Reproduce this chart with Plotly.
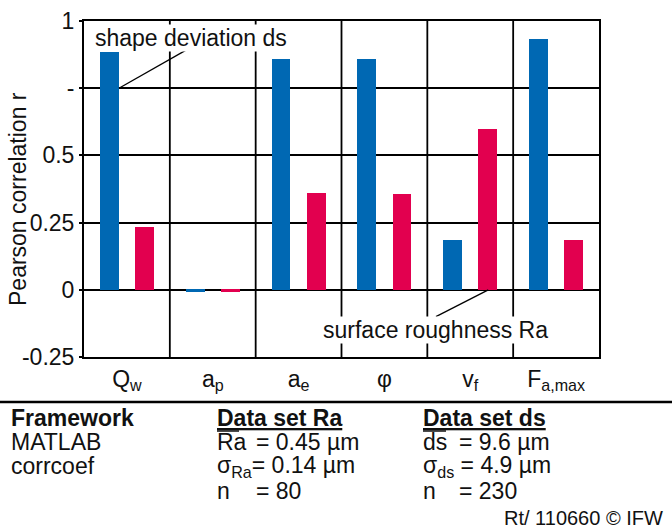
import plotly.graph_objects as go

categories = ["Q<sub>w</sub>", "a<sub>p</sub>", "a<sub>e</sub>", "φ", "v<sub>f</sub>", "F<sub>a,max</sub>"]
shape_deviation_ds = [0.886, -0.007, 0.859, 0.857, 0.187, 0.934]
surface_roughness_ra = [0.235, -0.007, 0.360, 0.357, 0.598, 0.186]
ytick_vals = [-0.25, 0, 0.25, 0.5, 0.75, 1]
ytick_text = ["-0.25", "0", "0.25", "0.5", "-", "1"]

BLUE = "#0068B3"
RED = "#E2004F"
FONT = "Liberation Sans, Arial, sans-serif"
FS = 23

W, H = 672, 529
ML, MR, MT, MB = 84, 73, 21, 172
PW = W - ML - MR
PH = H - MT - MB


def px(x):
    return (x - ML) / PW


def py(y):
    return (H - MB - y) / PH


fig = go.Figure()
xs = list(range(len(categories)))
fig.add_trace(go.Bar(x=xs, y=shape_deviation_ds, marker_color=BLUE, width=0.22, offset=-0.315,
                     marker_line_width=0, name="shape deviation ds"))
fig.add_trace(go.Bar(x=xs, y=surface_roughness_ra, marker_color=RED, width=0.22, offset=0.095,
                     marker_line_width=0, name="surface roughness Ra"))

fig.update_layout(
    width=W, height=H,
    margin=dict(l=ML, r=MR, t=MT, b=MB, autoexpand=False),
    paper_bgcolor="white", plot_bgcolor="white",
    showlegend=False,
    font=dict(family=FONT, size=FS, color="#111"),
    bargap=0,
)
fig.update_xaxes(
    range=[-0.5, 5.5], automargin=False,
    tickvals=xs, ticktext=categories,
    showgrid=False, zeroline=False,
    showline=True, mirror=True, linecolor="black", linewidth=2,
    ticks="", tickfont=dict(size=FS),
)
for b in [0.5, 1.5, 2.5, 3.5, 4.5]:
    fig.add_shape(type="line", xref="x", yref="y", x0=b, x1=b, y0=-0.25, y1=1,
                  line=dict(color="black", width=1.8), layer="below")
fig.update_yaxes(
    range=[-0.25, 1], automargin=False,
    tickvals=ytick_vals, ticktext=ytick_text,
    showgrid=True, gridcolor="black", gridwidth=1.8,
    zeroline=False,
    showline=True, mirror=True, linecolor="black", linewidth=2,
    ticks="outside", ticklen=3, tickcolor="black", tickwidth=1.5,
    tickfont=dict(size=FS),
)

# y-axis title
fig.add_annotation(x=px(18), y=py(199), xref="paper", yref="paper", text="Pearson correlation r",
                   textangle=-90, showarrow=False, xanchor="center", yanchor="middle",
                   font=dict(size=FS))

# leader lines
fig.add_shape(type="line", xref="x", yref="y", x0=-0.093, y0=0.75, x1=0.735, y1=0.90,
              line=dict(color="black", width=1.3))
fig.add_shape(type="line", xref="x", yref="y", x0=3.6, y0=-0.10, x1=4.21, y1=0.0,
              line=dict(color="black", width=1.3))

fig.add_annotation(x=0.745, y=0.937, xref="x", yref="y", text="shape deviation ds",
                   showarrow=False, bgcolor="white", font=dict(size=FS), borderpad=0)
fig.add_annotation(x=3.6, y=-0.15, xref="x", yref="y", text="surface roughness Ra",
                   showarrow=False, bgcolor="white", font=dict(size=FS), borderpad=0)

# separator line under chart
fig.add_shape(type="line", xref="paper", yref="paper", x0=px(0), x1=px(W), y0=py(402), y1=py(402),
              line=dict(color="black", width=2.5))

# overlines for mean values
fig.add_shape(type="line", xref="paper", yref="paper", x0=px(217), x1=px(239), y0=py(431), y1=py(431),
              line=dict(color="#111", width=1.5))
fig.add_shape(type="line", xref="paper", yref="paper", x0=px(423), x1=px(446), y0=py(431), y1=py(431),
              line=dict(color="#111", width=1.5))


def txt(x, y, s, anchor="left", size=FS):
    fig.add_annotation(x=px(x), y=py(y), xref="paper", yref="paper", text=s, showarrow=False,
                       xanchor=anchor, yanchor="middle", font=dict(size=size, color="#111"),
                       borderpad=0)


txt(10, 418, "<b>Framework</b>")
txt(10, 442, "MATLAB")
txt(10, 466, "corrcoef")

txt(216, 418, "<b><u>Data set Ra</u></b>")
txt(216, 442, "Ra")
txt(255, 442, "= 0.45 µm")
txt(216, 466, "σ<sub>Ra</sub>= 0.14 µm")
txt(216, 491, "n")
txt(255, 491, "= 80")

txt(422, 418, "<b><u>Data set ds</u></b>")
txt(422, 442, "ds")
txt(458, 442, "= 9.6 µm")
txt(422, 466, "σ<sub>ds</sub> = 4.9 µm")
txt(422, 491, "n")
txt(458, 491, "= 230")

txt(664, 518, "Rt/ 110660 © IFW", anchor="right", size=20)

fig.write_html("out.html", config={"displayModeBar": False},
               post_script="document.body.style.margin='0';document.body.style.padding='0';")
